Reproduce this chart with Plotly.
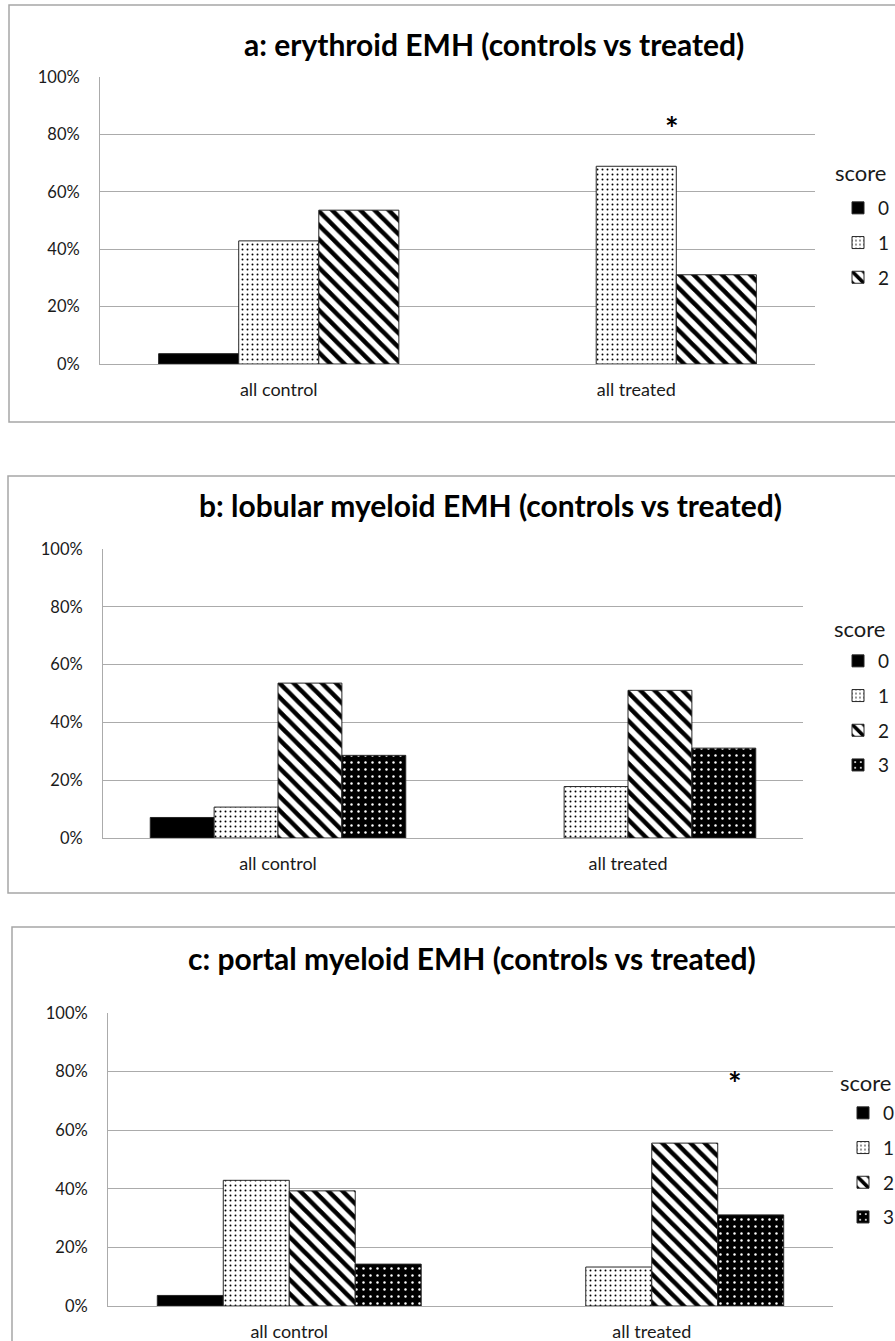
import plotly.graph_objects as go

W, H = 895, 1341

categories = ["all control", "all treated"]

# panel a: erythroid EMH (percent of animals per score)
a_scores = ["0", "1", "2"]
a_score0 = [3.6, 0.0]
a_score1 = [42.9, 68.9]
a_score2 = [53.6, 31.1]

# panel b: lobular myeloid EMH
b_scores = ["0", "1", "2", "3"]
b_score0 = [7.1, 0.0]
b_score1 = [10.7, 17.8]
b_score2 = [53.6, 51.1]
b_score3 = [28.6, 31.1]

# panel c: portal myeloid EMH
c_scores = ["0", "1", "2", "3"]
c_score0 = [3.6, 0.0]
c_score1 = [42.9, 13.3]
c_score2 = [39.3, 55.6]
c_score3 = [14.3, 31.1]

titles = [
    "a: erythroid EMH (controls vs treated)",
    "b: lobular myeloid EMH (controls vs treated)",
    "c: portal myeloid EMH (controls vs treated)",
]

y_ticks = [0, 20, 40, 60, 80, 100]
y_tick_labels = ["0%", "20%", "40%", "60%", "80%", "100%"]


def px(x):
    return x / W


def py(y):
    return 1 - y / H


FONT = "Lato"
GRID = "#ABABAB"
EDGE = "#262626"
TXT = "#1a1a1a"

styles = {
    "0": dict(color="black", pattern=None),
    "1": dict(color="white", pattern=dict(shape=".", fgcolor="black", bgcolor="white",
                                          size=5, solidity=0.12, fillmode="replace")),
    "2": dict(color="white", pattern=dict(shape="\\", fgcolor="black", bgcolor="white",
                                          size=10, solidity=0.45, fillmode="replace")),
    "3": dict(color="black", pattern=dict(shape=".", fgcolor="white", bgcolor="black",
                                          size=7, solidity=0.1, fillmode="replace")),
}

panels = [
    dict(scores=a_scores, series=[a_score0, a_score1, a_score2],
         plot=(100, 815, 77, 364), border=(9, 5, 910, 422), title=(494, 44),
         score_lbl=(833, 173), legend=(838, 189), star=(1.10, 82)),
    dict(scores=b_scores, series=[b_score0, b_score1, b_score2, b_score3],
         plot=(103, 803, 549, 838), border=(8, 476, 910, 893), title=(490, 505),
         score_lbl=(832, 628), legend=(838, 642), star=None),
    dict(scores=c_scores, series=[c_score0, c_score1, c_score2, c_score3],
         plot=(108, 833, 1013, 1306), border=(12, 927, 910, 1360), title=(472, 958),
         score_lbl=(838, 1082), legend=(843, 1094), star=(1.23, 76)),
]

group_frac = [0.672, 0.73, 0.728]

fig = go.Figure()
shapes = []
annotations = []
layout_extra = {}

for i, p in enumerate(panels):
    k = "" if i == 0 else str(i + 1)
    xa, ya = "x" + k, "y" + k
    lg = "legend" + k
    n = len(p["scores"])
    bw = group_frac[i] / n
    for j, (sc, vals) in enumerate(zip(p["scores"], p["series"])):
        st = styles[sc]
        marker = dict(color=st["color"],
                      line=dict(color=EDGE, width=[1 if v > 0 else 0 for v in vals]))
        if st["pattern"]:
            marker["pattern"] = st["pattern"]
        fig.add_trace(go.Bar(
            x=categories, y=vals, name=sc, marker=marker,
            width=bw, offset=-group_frac[i] / 2 + j * bw,
            xaxis=xa, yaxis=ya, legend=lg, legendgroup=f"p{i}s{sc}",
            showlegend=True,
        ))
    x0, x1, y0, y1 = p["plot"]
    layout_extra["xaxis" + k] = dict(
        domain=[px(x0), px(x1)], anchor=ya, showgrid=False, showline=True,
        linecolor=GRID, linewidth=1, ticks="", ticklabelstandoff=9,
        tickfont=dict(family=FONT, size=18, color=TXT), fixedrange=True,
    )
    layout_extra["yaxis" + k] = dict(
        domain=[py(y1), py(y0)], anchor=xa, range=[0, 100.01], tickvals=y_ticks,
        ticktext=y_tick_labels, showgrid=True, gridcolor=GRID, gridwidth=1,
        showline=True, linecolor=GRID, linewidth=1, zeroline=False, ticks="",
        ticklabelstandoff=16,
        tickfont=dict(family=FONT, size=16.5, color=TXT), fixedrange=True,
    )
    bx0, by0, bx1, by1 = p["border"]
    shapes.append(dict(type="rect", xref="paper", yref="paper", x0=px(bx0), x1=px(bx1),
                       y0=py(by1), y1=py(by0), line=dict(color="#A6A6A6", width=1.5),
                       layer="below"))
    tx, ty = p["title"]
    annotations.append(dict(text="<b>" + titles[i] + "</b>", xref="paper", yref="paper",
                            x=px(tx), y=py(ty), xanchor="center", yanchor="middle",
                            showarrow=False, font=dict(family=FONT, size=30, color="black")))
    sx, sy = p["score_lbl"]
    annotations.append(dict(text="score", xref="paper", yref="paper", x=px(sx), y=py(sy),
                            xanchor="left", yanchor="middle", showarrow=False,
                            font=dict(family=FONT, size=22, color=TXT)))
    lx, ly = p["legend"]
    layout_extra[lg] = dict(x=px(lx), y=py(ly), xanchor="left", yanchor="top",
                            bgcolor="rgba(0,0,0,0)", tracegroupgap=7,
                            font=dict(family=FONT, size=19, color=TXT),
                            itemclick=False, itemdoubleclick=False)
    if p["star"]:
        annotations.append(dict(text="<b>*</b>", xref=xa, yref=ya, x=p["star"][0],
                                y=p["star"][1], xanchor="center", yanchor="middle",
                                showarrow=False,
                                font=dict(family=FONT, size=32, color="black")))

fig.update_layout(
    width=W, height=H, margin=dict(l=0, r=0, t=0, b=0, autoexpand=False),
    paper_bgcolor="white", plot_bgcolor="white",
    barmode="group", shapes=shapes, annotations=annotations,
    font=dict(family=FONT),
    **layout_extra,
)

fig.write_html("out.html", config={"displayModeBar": False},
               post_script="document.body.style.margin='0';"
                           "document.body.style.overflow='hidden';")
